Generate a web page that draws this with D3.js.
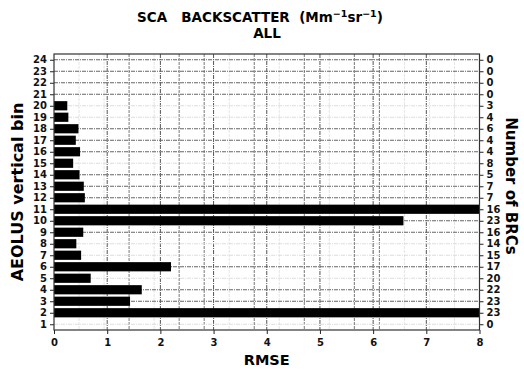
<!DOCTYPE html>
<html>
<head>
<meta charset="utf-8">
<script src="https://cdn.jsdelivr.net/npm/d3@7"></script>
<style>
  body { margin: 0; background: #fff; }
  text { font-family: "DejaVu Sans", sans-serif; font-weight: bold; white-space: pre; }
</style>
</head>
<body>
<div id="chart"></div>
<script>
// vertical bins, RMSE per bin and number of BRCs per bin
const bins = [1, 2, 3, 4, 5, 6, 7, 8, 9, 10, 11, 12, 13, 14, 15, 16, 17, 18, 19, 20, 21, 22, 23, 24];
const rmse = [0, 9.5, 1.43, 1.65, 0.69, 2.2, 0.51, 0.42, 0.55, 6.57, 9.5, 0.58, 0.56, 0.48, 0.36, 0.49, 0.41, 0.46, 0.27, 0.25, 0, 0, 0, 0];
const brcs = [0, 23, 23, 22, 20, 17, 15, 14, 16, 23, 16, 7, 7, 5, 8, 4, 4, 6, 4, 3, 0, 0, 0, 0];
const xTicks = [0, 1, 2, 3, 4, 5, 6, 7, 8];

const W = 524, H = 374;
const margin = { top: 54, right: 44.5, bottom: 44, left: 54 };
const width = W - margin.left - margin.right;
const height = H - margin.top - margin.bottom;

const svg = d3.select("#chart").append("svg")
    .attr("width", W).attr("height", H);

const g = svg.append("g")
    .attr("transform", "translate(" + margin.left + "," + margin.top + ")");

const x = d3.scaleLinear().domain([0, 8]).range([0, width]);
const y = d3.scaleLinear().domain([0.5, 24.5]).range([height, 0]);
// twin axis left behind by the plotting tool, only its grid shows
const x2 = d3.scaleLinear().domain([0, 17]).range([0, width]);

g.append("defs").append("clipPath").attr("id", "clip")
  .append("rect").attr("width", width).attr("height", height);

// grids
const grid = g.append("g").attr("clip-path", "url(#clip)");
grid.selectAll(".x2").data(d3.range(1, 17)).enter().append("line")
    .attr("x1", d => x2(d)).attr("x2", d => x2(d))
    .attr("y1", 0).attr("y2", height)
    .attr("stroke", d => [3, 5, 6, 8, 10, 12, 13].includes(d) ? "#777" : "#e4e4e4")
    .attr("stroke-dasharray", "3,1");
grid.selectAll(".gx").data(xTicks.slice(1, -1)).enter().append("line")
    .attr("x1", d => x(d)).attr("x2", d => x(d))
    .attr("y1", 0).attr("y2", height)
    .attr("stroke", "#555").attr("stroke-dasharray", "4,1,1,1");
grid.selectAll(".gy").data(bins).enter().append("line")
    .attr("x1", 0).attr("x2", width)
    .attr("y1", d => y(d)).attr("y2", d => y(d))
    .attr("stroke", d => [20, 19, 15, 8, 7, 5, 1].includes(d) ? "#ddd" : "#666")
    .attr("stroke-dasharray", "4,1,1,1");

// bars
const bh = (y(1) - y(2)) * 0.8;
g.append("g").attr("clip-path", "url(#clip)")
  .selectAll("rect").data(bins).enter().append("rect")
    .attr("x", x(0))
    .attr("y", (d, i) => y(d) - bh / 2)
    .attr("width", (d, i) => x(rmse[i]) - x(0))
    .attr("height", bh)
    .attr("fill", "#000");

// axes
const bottom = g.append("g")
    .attr("transform", "translate(0," + height + ")")
    .call(d3.axisBottom(x).tickValues(xTicks).tickFormat(d3.format("d")).tickSize(4).tickPadding(5));
const left = g.append("g")
    .call(d3.axisLeft(y).tickValues(bins).tickSize(4).tickPadding(3));
const right = g.append("g")
    .attr("transform", "translate(" + width + ",0)")
    .call(d3.axisRight(y).tickValues(bins).tickFormat((d, i) => brcs[i]).tickSize(4).tickPadding(3));

[bottom, left, right].forEach(a => {
  a.select(".domain").remove();
  a.selectAll(".tick line").attr("stroke", "#222");
  a.selectAll(".tick text").attr("fill", "#111").style("font-size", "10px");
});

g.append("rect")
    .attr("width", width).attr("height", height)
    .attr("fill", "none").attr("stroke", "#333").attr("stroke-width", 1.2);

// titles
const title = svg.append("text")
    .attr("x", 260).attr("y", 22)
    .attr("text-anchor", "middle")
    .style("font-size", "13.5px");
title.append("tspan").text("SCA   BACKSCATTER  (Mm");
title.append("tspan").attr("dy", -5).style("font-size", "9.5px").text("−1");
title.append("tspan").attr("dy", 5).text("sr");
title.append("tspan").attr("dy", -5).style("font-size", "9.5px").text("−1");
title.append("tspan").attr("dy", 5).text(")");

svg.append("text")
    .attr("x", 267).attr("y", 38)
    .attr("text-anchor", "middle")
    .style("font-size", "13.5px")
    .text("ALL");

svg.append("text")
    .attr("x", margin.left + width / 2).attr("y", 365)
    .attr("text-anchor", "middle")
    .style("font-size", "14.5px")
    .text("RMSE");

svg.append("text")
    .attr("transform", "translate(23," + (margin.top + height / 2) + ") rotate(-90)")
    .attr("text-anchor", "middle")
    .style("font-size", "16px")
    .text("AEOLUS vertical bin");

svg.append("text")
    .attr("transform", "translate(506,186) rotate(90)")
    .attr("text-anchor", "middle")
    .style("font-size", "15px")
    .text("Number of BRCs");
</script>
</body>
</html>
